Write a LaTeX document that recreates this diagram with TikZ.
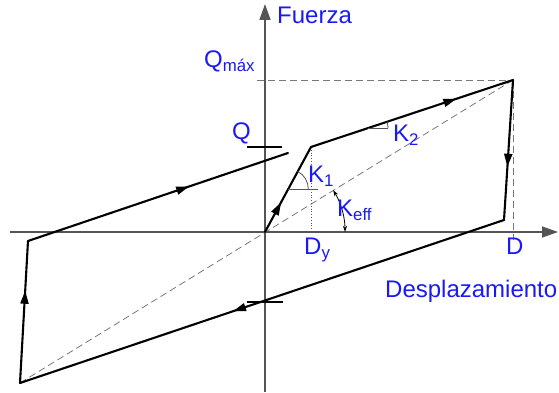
\documentclass[tikz,border=0pt]{standalone}
\usepackage{fontspec}
\setmainfont{Liberation Sans}
\definecolor{labelblue}{RGB}{25,25,250}
\definecolor{axisgray}{RGB}{85,85,85}
\definecolor{guidegray}{RGB}{120,120,120}
\usetikzlibrary{arrows.meta, decorations.markings, positioning}

\begin{document}
\begin{tikzpicture}[x=1pt, y=1pt,
    axis/.style={draw=axisgray, line width=1.6pt, -{Triangle[length=16pt, width=11pt]}},
    loopline/.style={line width=2.1pt, line cap=round},
    midarrow/.style={postaction={decorate}, decoration={markings,
      mark=at position #1 with {\arrow{Triangle[length=13pt, width=8pt]}}}},
    guide/.style={draw=guidegray, line width=0.8pt, dash pattern=on 7pt off 4pt},
    slopemark/.style={draw=axisgray, line width=0.8pt},
    tick/.style={line width=1.5pt},
    lbl/.style={text=labelblue, font=\fontsize{24}{27}\selectfont, inner sep=0pt},
  ]
    \useasboundingbox (-265,-161) rectangle (294,232);
    % points of the loop
    \coordinate (O) at (0,0);
    \coordinate (Y) at (46,85);
    \coordinate (P) at (248,152);
    \coordinate (R) at (239,12);
    \coordinate (B) at (-245,-151);
    \coordinate (L) at (-237,-9);
    \coordinate (E) at (23,79);
    % axes
    \coordinate (xl) at (-255,0);
    \coordinate (xr) at (293,0);
    \coordinate (yb) at (0,-160);
    \coordinate (yt) at (0,228);
    \draw[axis] (xl) -- (xr);
    \draw[axis] (yb) -- (yt);
    % guide lines
    \coordinate (qm) at (-8,152);
    \coordinate (dd) at (248,-8);
    \coordinate (dy) at (46,0);
    \draw[guide] (qm) -- (P);
    \draw[guide] (P) -- (dd);
    \draw[guide] (B) -- (P);
    \draw[axisgray, line width=0.8pt, dotted] (Y) -- (dy);
    % hysteresis loop
    \draw[loopline, midarrow=0.35] (O) -- (Y);
    \draw[loopline, midarrow=0.72] (Y) -- (P);
    \draw[loopline, midarrow=0.62] (P) -- (R);
    \draw[loopline, midarrow=0.56] (R) -- (B);
    \draw[loopline, midarrow=0.65] (B) -- (L);
    \draw[loopline, midarrow=0.62] (L) -- (E);
    % ticks on the force axis
    \coordinate (qa) at (-18,85);
    \coordinate (qb) at (17,85);
    \coordinate (na) at (-18,-70);
    \coordinate (nb) at (18,-70);
    \draw[tick] (qa) -- (qb);
    \draw[tick] (na) -- (nb);
    % stiffness marks
    \coordinate (k1c) at (23.3,43);
    \coordinate (k1e) at (53,43);
    \draw[slopemark] (k1c) -- (k1e);
    \draw[slopemark] ([shift={(20,0)}]k1c) arc[start angle=0, end angle=61.6, radius=20];
    \coordinate (k2c) at (103,103.9);
    \coordinate (k2e) at (123,103.9);
    \draw[slopemark] (k2c) -- (k2e);
    \draw[slopemark] ([shift={(20,0)}]k2c) arc[start angle=0, end angle=18.4, radius=20];
    \draw[line width=0.8pt, {Stealth[length=6pt, width=4pt]}-{Stealth[length=6pt, width=4pt]}]
      (80,0) arc[start angle=0, end angle=31.5, radius=80];
    % labels
    \node[lbl, anchor=base west] (fuerza) at (12,208) {Fuerza};
    \node[lbl, anchor=base west] (qmax) at (-61,164) {Q\textsubscript{máx}};
    \node[lbl, anchor=base west] (q) at (-33,92) {Q};
    \node[lbl, anchor=base west] (k2) at (128,90) {K\textsubscript{2}};
    \node[lbl, anchor=base west] (k1) at (43,49) {K\textsubscript{1}};
    \node[lbl, anchor=base west] (keff) at (72,15) {K\textsubscript{eff}};
    \node[lbl, anchor=base west] (dylbl) at (39,-23) {D\textsubscript{y}};
    \node[lbl, anchor=base west] (dlbl) at (241,-23) {D};
    \node[lbl, anchor=base west] (desp) at (120,-66) {Desplazamiento};
  \end{tikzpicture}
\end{document}
